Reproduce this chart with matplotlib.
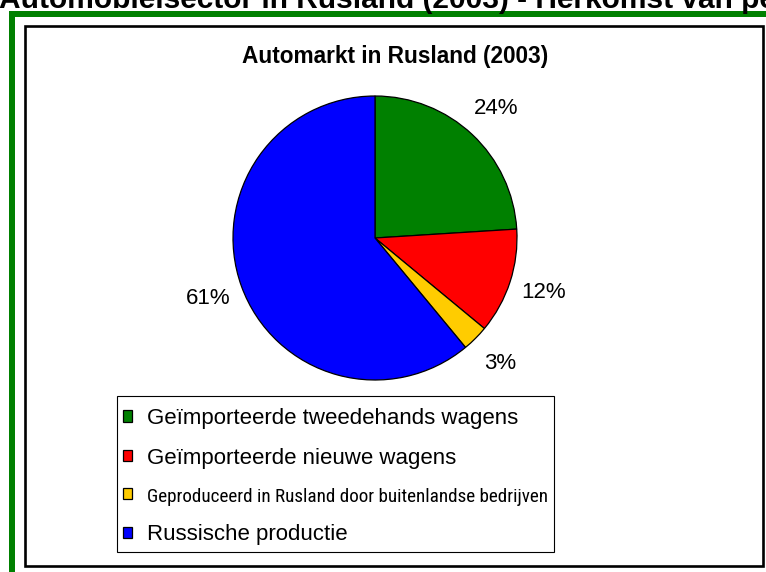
import matplotlib
matplotlib.use("Agg")
import matplotlib.pyplot as plt
from matplotlib import font_manager
from matplotlib.font_manager import FontProperties
from matplotlib.patches import Rectangle

plt.rcParams['font.family'] = ['Liberation Sans', 'DejaVu Sans']

# Data
categories = [
    "Geïmporteerde tweedehands wagens",
    "Geïmporteerde nieuwe wagens",
    "Geproduceerd in Rusland door buitenlandse bedrijven",
    "Russische productie",
]
shares = [24, 12, 3, 61]
colors = ["#008000", "#FF0000", "#FFCC00", "#0000FF"]

page_title = "Automobielsector in Rusland (2003) - Herkomst van personenwagens"
chart_title = "Automarkt in Rusland (2003)"

W, H = 766, 572


def fx(x):
    return x / W


def fy(y):
    return 1 - y / H


def narrow_font():
    # look for a condensed sans face to mimic the squeezed legend entry
    wanted = ["Liberation Sans Narrow", "Arial Narrow", "Roboto Condensed",
              "Noto Sans", "Open Sans", "Noto Sans Display"]
    found = {}
    for f in font_manager.fontManager.ttflist:
        if f.style != "normal" or f.weight not in (400, "normal", "regular", "book"):
            continue
        st = str(f.stretch)
        if "Narrow" in f.name or "Condensed" in f.name:
            found.setdefault(f.name, f.fname)
        elif st in ("condensed", "semi-condensed", "extra-condensed") and f.name in wanted:
            found.setdefault(f.name, f.fname)
    for nm in wanted:
        if nm in found:
            return found[nm]
    return None


fig = plt.figure(figsize=(W / 100, H / 100), dpi=100)
fig.patch.set_facecolor("white")

# green frame (top and left bars)
fig.patches.append(Rectangle((fx(9), fy(17)), (W - 9) / W + 0.01, 6 / H,
                             transform=fig.transFigure, color="#008000", lw=0))
fig.patches.append(Rectangle((fx(9), -0.01), 6 / W, fy(11) + 0.01,
                             transform=fig.transFigure, color="#008000", lw=0))

# chart area border
fig.patches.append(Rectangle((fx(25), fy(565.5)), (762.5 - 25) / W, (565.5 - 25.5) / H,
                             transform=fig.transFigure, fill=False,
                             edgecolor="black", lw=1.9))

# page title, cut off at the top
fig.text(fx(-1), fy(8), page_title, fontsize=21.5, fontweight="bold",
         ha="left", va="baseline", color="black")

fig.text(fx(395), fy(63), chart_title, fontsize=16.3, fontweight="bold",
         ha="center", va="baseline", color="black")

# pie
cx, cy, r = 375, 238, 142
ax = fig.add_axes([fx(cx - r), fy(cy + r), 2 * r / W, 2 * r / H])
wedges, texts, pcts = ax.pie(
    shares, colors=colors, startangle=90, counterclock=False,
    autopct="%d%%", pctdistance=1.25,
    wedgeprops=dict(edgecolor="black", linewidth=0.9),
    textprops=dict(fontsize=16, color="black"),
)
for w in wedges:
    w.set_clip_on(False)
ax.set_xlim(-1, 1)
ax.set_ylim(-1, 1)
ax.set_aspect("equal")
ax.axis("off")

# legend box
fig.patches.append(Rectangle((fx(117), fy(552)), (554 - 117) / W, (552 - 396) / H,
                             transform=fig.transFigure, facecolor="white",
                             edgecolor="black", lw=0.8))

leg = fig.legend(
    wedges, categories, loc="upper left",
    bbox_to_anchor=(fx(115), fy(400)), bbox_transform=fig.transFigure,
    borderaxespad=0, fontsize=16, frameon=False,
    handlelength=0.42, handleheight=0.42, handletextpad=0.66,
    borderpad=0.35, labelspacing=0.85,
)

# the long entry is squeezed in the original legend: fit it inside the box
long_text = leg.get_texts()[2]
fname = narrow_font()
if fname:
    long_text.set_fontproperties(FontProperties(fname=fname, size=16))
fig.canvas.draw()
bb = long_text.get_window_extent(fig.canvas.get_renderer())
target_right = 551
if bb.x1 > target_right:
    long_text.set_fontsize(long_text.get_fontsize() * (target_right - bb.x0) / bb.width)

fig.savefig("out.png", dpi=100, facecolor="white")
